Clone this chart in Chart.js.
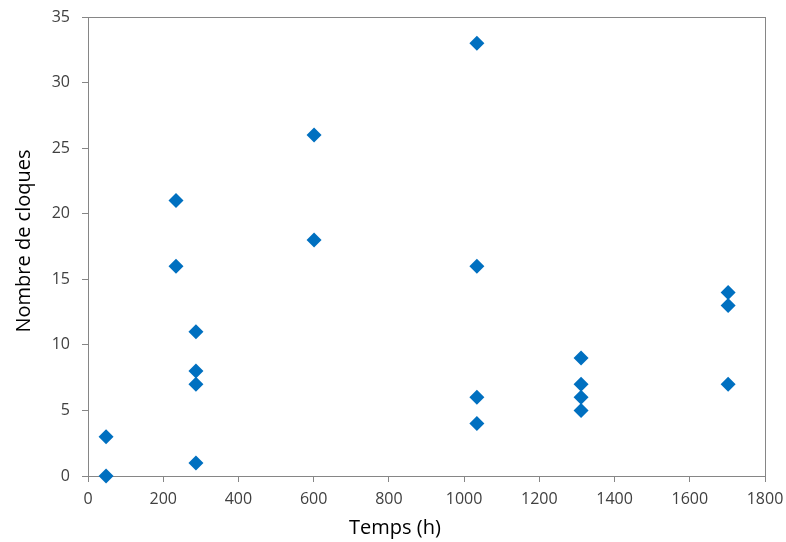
<!DOCTYPE html>
<html>
<head>
<meta charset="utf-8">
<script src="https://cdn.jsdelivr.net/npm/chart.js@4/dist/chart.umd.min.js"></script>
<style>
  html, body { margin: 0; padding: 0; background: #fff; }
  #wrap { width: 786px; height: 542px; }
</style>
</head>
<body>
<div id="wrap"><canvas id="cloques" width="786" height="542"></canvas></div>
<script>
// temps (h) de chaque mesure et nombre de cloques correspondant
var temps   = [48, 48, 234, 234, 287, 287, 287, 287, 601, 601, 1034, 1034, 1034, 1034, 1311, 1311, 1311, 1311, 1702, 1702, 1702];
var cloques = [3, 0, 21, 16, 11, 8, 7, 1, 26, 18, 33, 16, 6, 4, 9, 7, 6, 5, 14, 13, 7];
var xTicks  = [0, 200, 400, 600, 800, 1000, 1200, 1400, 1600, 1800];
var yTicks  = [0, 5, 10, 15, 20, 25, 30, 35];
var xTitle  = 'Temps (h)';
var yTitle  = 'Nombre de cloques';

var points = temps.map(function (t, i) { return { x: t, y: cloques[i] }; });

// cadre gris autour de la zone de tracé + titres d'axes placés comme dans Excel
var frame = {
    id: 'frame',
    beforeDatasetsDraw: function (chart) {
        var a = chart.chartArea, ctx = chart.ctx;
        ctx.save();
        ctx.strokeStyle = '#868686';
        ctx.lineWidth = 1;
        ctx.strokeRect(Math.round(a.left) + 0.5, Math.round(a.top) + 0.5,
            Math.round(a.right - a.left), Math.round(a.bottom - a.top));
        ctx.restore();
    },
    afterDraw: function (chart) {
        var ctx = chart.ctx;
        ctx.save();
        ctx.fillStyle = '#000';
        ctx.font = '20px "Open Sans"';
        ctx.textAlign = 'center';
        ctx.textBaseline = 'middle';
        ctx.fillText(xTitle, 395, 528);
        ctx.translate(24, 241);
        ctx.rotate(-Math.PI / 2);
        ctx.fillText(yTitle, 0, 0);
        ctx.restore();
    }
};

var ctx = document.getElementById('cloques').getContext('2d');
new Chart(ctx, {
    type: 'scatter',
    data: {
        datasets: [{
            label: yTitle,
            data: points,
            pointStyle: 'rectRot',
            pointRadius: 7.5,
            pointHoverRadius: 7.5,
            backgroundColor: '#0070C0',
            borderColor: '#0070C0',
            borderWidth: 0,
            clip: false
        }]
    },
    options: {
        responsive: false,
        animation: false,
        layout: { padding: { left: 0, right: 21, top: 17, bottom: 0 } },
        plugins: {
            legend: { display: false },
            tooltip: { enabled: false }
        },
        scales: {
            x: {
                type: 'linear',
                min: 0,
                max: 1800,
                afterBuildTicks: function (s) { s.ticks = xTicks.map(function (v) { return { value: v }; }); },
                afterFit: function (s) { s.height = 66; s.paddingLeft = 0; s.paddingRight = 0; },
                grid: { display: true, drawOnChartArea: false, drawTicks: true, tickLength: 6, color: '#868686' },
                border: { display: true, color: '#868686' },
                ticks: {
                    color: '#404040', font: { family: 'Open Sans', size: 16 }, padding: 8, maxRotation: 0,
                    callback: function (v) { return String(v); }
                }
            },
            y: {
                type: 'linear',
                min: 0,
                max: 35,
                afterBuildTicks: function (s) { s.ticks = yTicks.map(function (v) { return { value: v }; }); },
                afterFit: function (s) { s.width = 88; s.paddingTop = 0; s.paddingBottom = 0; },
                grid: { display: true, drawOnChartArea: false, drawTicks: true, tickLength: 6, color: '#868686' },
                border: { display: true, color: '#868686' },
                ticks: {
                    color: '#404040', font: { family: 'Open Sans', size: 16 }, padding: 12,
                    callback: function (v) { return String(v); }
                }
            }
        }
    },
    plugins: [frame]
});
</script>
</body>
</html>
